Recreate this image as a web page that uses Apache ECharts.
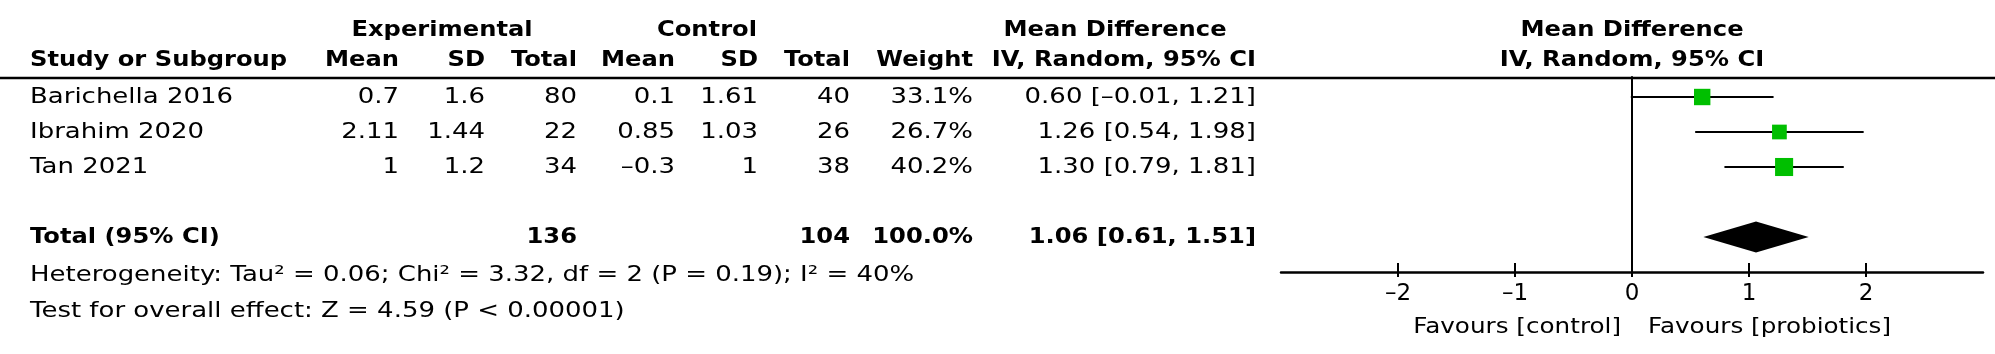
<!DOCTYPE html>
<html>
<head>
<meta charset="utf-8">
<script src="https://cdn.jsdelivr.net/npm/echarts@6/dist/echarts.min.js"></script>
<style>
  html, body { margin: 0; padding: 0; background: #fff; }
  #chart { width: 1995px; height: 354px; }
</style>
</head>
<body>
<div id="chart"></div>
<script>
// study data
var studies = ['Barichella 2016', 'Ibrahim 2020', 'Tan 2021'];
var expMean = ['0.7', '2.11', '1'];
var expSD = ['1.6', '1.44', '1.2'];
var expTotal = [80, 22, 34];
var ctrlMean = ['0.1', '0.85', '\u20130.3'];
var ctrlSD = ['1.61', '1.03', '1'];
var ctrlTotal = [40, 26, 38];
var weights = [33.1, 26.7, 40.2];
var md = [0.60, 1.26, 1.30];
var ciLow = [-0.01, 0.54, 0.79];
var ciHigh = [1.21, 1.98, 1.81];

// pooled result
var pooledExpTotal = 136;
var pooledCtrlTotal = 104;
var pooledWeight = '100.0%';
var pooled = [0.61, 1.06, 1.51]; // low, md, high
var heterogeneity = 'Heterogeneity: Tau\u00b2 = 0.06; Chi\u00b2 = 3.32, df = 2 (P = 0.19); I\u00b2 = 40%';
var overall = 'Test for overall effect: Z = 4.59 (P < 0.00001)';

// axis
var tickValues = [-2, -1, 0, 1, 2];
var tickLabels = ['\u20132', '\u20131', '0', '1', '2'];
var favours = ['Favours [control]', 'Favours [probiotics]'];

var FONT = '"DejaVu Sans", Verdana, sans-serif';
var FS = 22;
// original font is wider than DejaVu, stretch text horizontally
var SX_REG = 1.18, SX_BOLD = 1.10;
var TOTAL_ROW = 4;

// row -> pixel (same mapping as the plot's y axis)
var plotTop = 77, rowH = 35, yMin = -4 / 7, yMax = 5;
function rowY(r) { return plotTop + (r - yMin) * rowH; }

function num(v) { return (v < 0 ? '\u2013' : '') + Math.abs(v).toFixed(2); }
function ciText(m, lo, hi) { return num(m) + ' [' + num(lo) + ', ' + num(hi) + ']'; }

// table column right edges
var colX = [399, 485, 577, 675, 758, 850, 973, 1256];

var texts = [];
function txt(s, x, y, align, bold, sx) {
  texts.push({
    type: 'text',
    silent: true,
    x: x, y: y,
    scaleX: sx || (bold ? SX_BOLD : SX_REG),
    style: {
      text: s, x: 0, y: 0,
      align: align, textAlign: align,
      verticalAlign: 'middle', textVerticalAlign: 'middle',
      fontFamily: FONT, fontSize: FS, fontWeight: bold ? 'bold' : 'normal',
      fill: '#000'
    }
  });
}

// headers
var h1 = 30, h2 = 60;
txt('Experimental', 442, h1, 'center', true);
txt('Control', 707, h1, 'center', true);
txt('Mean Difference', 1115, h1, 'center', true);
txt('Mean Difference', 1632, h1, 'center', true);
txt('Study or Subgroup', 30, h2, 'left', true);
['Mean', 'SD', 'Total', 'Mean', 'SD', 'Total', 'Weight', 'IV, Random, 95% CI'].forEach(function (s, i) {
  txt(s, colX[i], h2, 'right', true);
});
txt('IV, Random, 95% CI', 1632, h2, 'center', true);

// study rows
studies.forEach(function (s, i) {
  var y = rowY(i);
  txt(s, 30, y, 'left', false);
  var cells = [expMean[i], expSD[i], String(expTotal[i]), ctrlMean[i], ctrlSD[i],
    String(ctrlTotal[i]), weights[i].toFixed(1) + '%', ciText(md[i], ciLow[i], ciHigh[i])];
  cells.forEach(function (c, j) { txt(c, colX[j], y, 'right', false); });
});

// total row
var ty = rowY(TOTAL_ROW);
txt('Total (95% CI)', 30, ty, 'left', true);
txt(String(pooledExpTotal), colX[2], ty, 'right', true);
txt(String(pooledCtrlTotal), colX[5], ty, 'right', true);
txt(pooledWeight, colX[6], ty, 'right', true);
txt(ciText(pooled[1], pooled[0], pooled[2]), colX[7], ty, 'right', true);
txt(heterogeneity, 30, 275, 'left', false);
txt(overall, 30, 311, 'left', false);

// favours labels
txt(favours[0], 1621, 327, 'right', false, 1.12);
txt(favours[1], 1648, 327, 'left', false, 1.12);

// header rule
texts.push({
  type: 'line', silent: true,
  shape: { x1: 0, y1: 78, x2: 1995, y2: 78 },
  style: { stroke: '#000', lineWidth: 2.5 }
});

var ciData = studies.map(function (s, i) { return [ciLow[i], ciHigh[i], i]; });
var mdData = studies.map(function (s, i) { return [md[i], i, weights[i]]; });

var chart = echarts.init(document.getElementById('chart'));
chart.setOption({
  animation: false,
  backgroundColor: '#fff',
  grid: { left: 1281, top: plotTop, width: 702, height: rowH * (yMax - yMin) },
  xAxis: [{
    type: 'value', min: -3, max: 3, interval: 1,
    axisLine: { onZero: false, lineStyle: { color: '#000', width: 2.5 } },
    axisTick: { show: true, inside: true, length: 9, customValues: tickValues, lineStyle: { color: '#000', width: 2 } },
    axisLabel: {
      customValues: tickValues, margin: 11, color: '#000', fontFamily: FONT, fontSize: 23,
      formatter: function (v) { return tickLabels[tickValues.indexOf(v)]; }
    },
    splitLine: { show: false }
  }, {
    type: 'value', min: -3, max: 3, interval: 1, position: 'bottom',
    axisLine: { show: false, onZero: false },
    axisTick: { show: true, inside: false, length: 5, customValues: tickValues, lineStyle: { color: '#000', width: 2 } },
    axisLabel: { show: false },
    splitLine: { show: false }
  }],
  yAxis: {
    type: 'value', inverse: true, min: yMin, max: yMax,
    axisLine: { show: true, onZero: true, lineStyle: { color: '#000', width: 2 } },
    axisTick: { show: false }, axisLabel: { show: false }, splitLine: { show: false }
  },
  series: [{
    type: 'custom',
    data: ciData,
    renderItem: function (params, api) {
      var a = api.coord([api.value(0), api.value(2)]);
      var b = api.coord([api.value(1), api.value(2)]);
      return { type: 'line', shape: { x1: a[0], y1: a[1], x2: b[0], y2: b[1] }, style: { stroke: '#000', lineWidth: 2 } };
    },
    encode: { x: [0, 1], y: 2 }
  }, {
    type: 'scatter',
    data: mdData,
    symbol: 'rect',
    symbolSize: function (v) { return 2.85 * Math.sqrt(v[2]); },
    itemStyle: { color: '#00bf00', opacity: 1 },
    z: 3
  }, {
    type: 'custom',
    data: [[pooled[0], pooled[1], pooled[2], TOTAL_ROW]],
    renderItem: function (params, api) {
      var r = api.value(3);
      var l = api.coord([api.value(0), r]);
      var c = api.coord([api.value(1), r]);
      var h = api.coord([api.value(2), r]);
      var half = 15.5;
      return {
        type: 'polygon',
        shape: { points: [[l[0], l[1]], [c[0], c[1] - half], [h[0], h[1]], [c[0], c[1] + half]] },
        style: { fill: '#000' }
      };
    },
    encode: { x: [0, 1, 2], y: 3 }
  }],
  graphic: texts
});
</script>
</body>
</html>
